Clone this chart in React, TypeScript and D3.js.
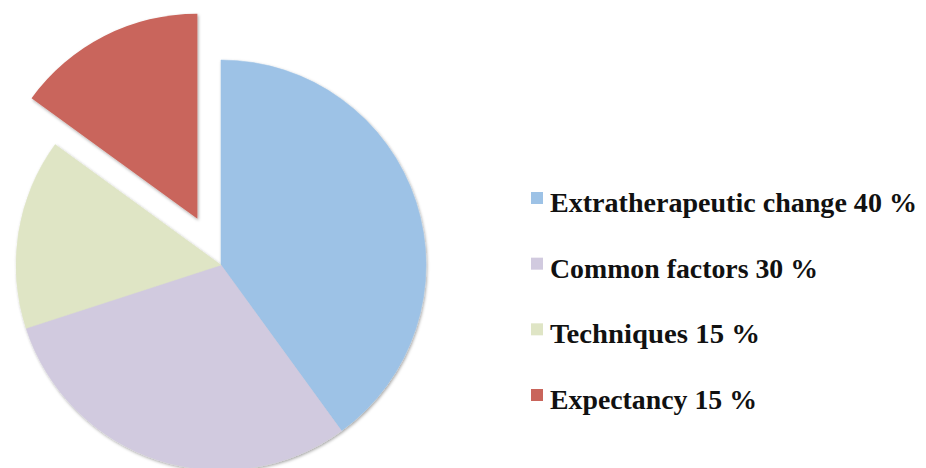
import { useEffect, useRef } from 'react';
import * as d3 from 'd3';

const labels = ['Extratherapeutic change', 'Common factors', 'Techniques', 'Expectancy'];
const shares = [40, 30, 15, 15];
const colors = ['#9dc2e6', '#d1cadf', '#dfe5c5', '#c9655b'];
const exploded = [false, false, false, true];

const WIDTH = 926;
const HEIGHT = 468;

export default function App() {
  const svgRef = useRef<SVGSVGElement>(null);

  useEffect(() => {
    if (!svgRef.current) return;
    const root = d3.select(svgRef.current);
    root.selectAll('*').remove();

    const defs = root.append('defs');
    const shadow = defs.append('filter').attr('id', 'shadow').attr('x', '-10%').attr('y', '-10%').attr('width', '120%').attr('height', '120%');
    shadow
      .append('feDropShadow')
      .attr('dx', 1)
      .attr('dy', 1.5)
      .attr('stdDeviation', 1.5)
      .attr('flood-color', '#000')
      .attr('flood-opacity', 0.35);

    const radius = 205;
    const cx = 221;
    const cy = 265;
    const explode = 52;

    const data = labels.map((label, i) => ({ label, value: shares[i], color: colors[i], out: exploded[i] }));
    type D = (typeof data)[number];

    const pie = d3.pie<D>().value((d) => d.value).sort(null);
    const arc = d3.arc<d3.PieArcDatum<D>>().innerRadius(0).outerRadius(radius);
    const arcs = pie(data);

    const g = root.append('g').attr('transform', `translate(${cx},${cy})`);

    // slices that stay in place share one shadow, so no seams inside the pie
    g.append('g')
      .attr('filter', 'url(#shadow)')
      .selectAll('path')
      .data(arcs.filter((d) => !d.data.out))
      .enter()
      .append('path')
      .attr('d', arc)
      .attr('fill', (d) => d.data.color)
      .attr('stroke', (d) => d.data.color)
      .attr('stroke-width', 0.5);

    // pulled-out slice
    g.selectAll('path.out')
      .data(arcs.filter((d) => d.data.out))
      .enter()
      .append('path')
      .attr('class', 'out')
      .attr('d', arc)
      .attr('fill', (d) => d.data.color)
      .attr('filter', 'url(#shadow)')
      .attr('transform', (d) => {
        const mid = (d.startAngle + d.endAngle) / 2;
        return `translate(${Math.sin(mid) * explode},${-Math.cos(mid) * explode})`;
      });

    // Legend
    const legendY = d3.scalePoint<number>().domain(d3.range(data.length)).range([212, 409]);
    const textWidths = [367, 268, 210, 207];

    const items = root
      .append('g')
      .selectAll('g')
      .data(data)
      .enter()
      .append('g')
      .attr('transform', (_, i) => `translate(531,${legendY(i)})`);

    items
      .append('rect')
      .attr('x', 0)
      .attr('y', -20)
      .attr('width', 12)
      .attr('height', 12)
      .attr('fill', (d) => d.color);

    items
      .append('text')
      .attr('x', 19)
      .attr('y', 0)
      .attr('textLength', (_, i) => textWidths[i])
      .attr('lengthAdjust', 'spacingAndGlyphs')
      .attr('fill', '#111')
      .style('font-family', '"Liberation Serif", "DejaVu Serif", serif')
      .style('font-size', '28px')
      .style('font-weight', 'bold')
      .text((d) => `${d.label} ${d.value} %`);
  }, []);

  return (
    <svg
      ref={svgRef}
      width={WIDTH}
      height={HEIGHT}
      style={{ position: 'absolute', left: 0, top: 0, background: '#fff' }}
    ></svg>
  );
}
